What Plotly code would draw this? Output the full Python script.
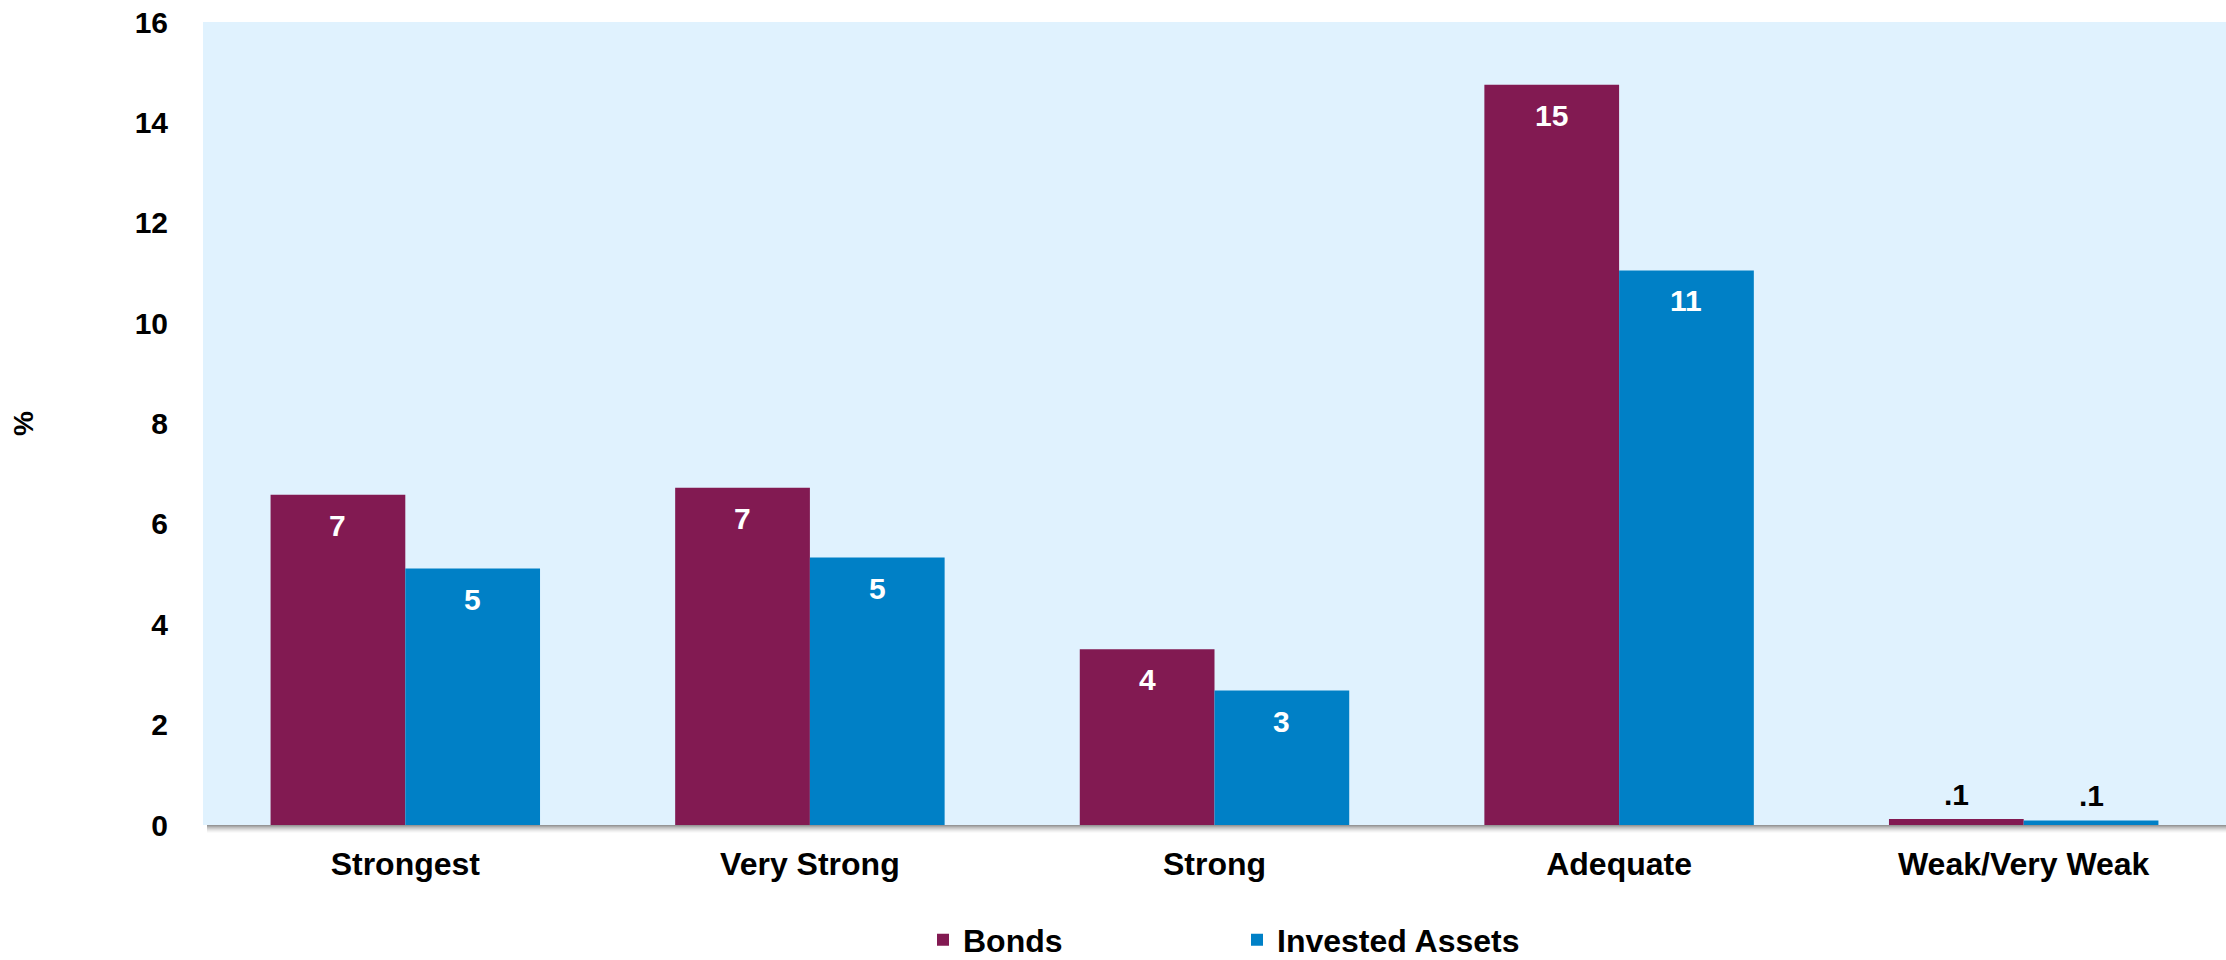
import plotly.graph_objects as go

categories = ["Strongest", "Very Strong", "Strong", "Adequate", "Weak/Very Weak"]
bonds = [6.58, 6.72, 3.5, 14.75, 0.12]
invested_assets = [5.11, 5.33, 2.68, 11.05, 0.09]
y_ticks = [0, 2, 4, 6, 8, 10, 12, 14, 16]

BONDS_COLOR = "#821A52"
INVESTED_COLOR = "#0080C6"
PLOT_BG = "#E0F2FE"
FONT = "Liberation Sans, Arial, sans-serif"

W, H = 2226, 960
M_L, M_R, M_T, M_B = 203, 0, 22, 135
BARGAP = 0.334


def fmt(v):
    # whole numbers for large values, ".1" style for fractions below one
    if v >= 1:
        return f"{round(v):d}"
    return f"{v:.1f}".lstrip("0")


fig = go.Figure()
fig.add_trace(go.Bar(name="Bonds", x=categories, y=bonds,
                     marker=dict(color=BONDS_COLOR, line=dict(width=0))))
fig.add_trace(go.Bar(name="Invested Assets", x=categories, y=invested_assets,
                     marker=dict(color=INVESTED_COLOR, line=dict(width=0))))

# value labels: inside near the top for tall bars, above for tiny ones
half = (1 - BARGAP) / 4
annotations = []
for series, sign in ((bonds, -1), (invested_assets, 1)):
    for i, v in enumerate(series):
        inside = v >= 1
        annotations.append(dict(
            x=i + sign * half, y=v, xref="x", yref="y",
            text=fmt(v), showarrow=False,
            yanchor="top" if inside else "bottom",
            yshift=-12 if inside else 6,
            font=dict(family=FONT, size=30, color="white" if inside else "black",
                      weight="bold"),
        ))

# soft drop shadow under the plot area
plot_h = H - M_T - M_B
shapes = []
shade = [150, 170, 190, 205, 220, 232, 242, 250]
for k, g in enumerate(shade):
    shapes.append(dict(
        type="rect", xref="paper", yref="paper",
        x0=4 / (W - M_L - M_R), x1=1,
        y0=-(k + 1) / plot_h, y1=-k / plot_h,
        fillcolor=f"rgb({g},{g},{g})", line=dict(width=0), layer="below",
    ))

fig.update_layout(
    width=W, height=H,
    margin=dict(l=M_L, r=M_R, t=M_T, b=M_B, pad=0, autoexpand=False),
    paper_bgcolor="white", plot_bgcolor=PLOT_BG,
    barmode="group", bargap=BARGAP, bargroupgap=0,
    font=dict(family=FONT, size=30, color="black", weight="bold"),
    xaxis=dict(
        showgrid=False, showline=False, zeroline=False, automargin=False,
        ticks="outside", ticklen=11, tickcolor="rgba(0,0,0,0)",
        tickfont=dict(size=32, weight="bold"),
    ),
    yaxis=dict(
        range=[0, 16], tickvals=y_ticks, showgrid=False, showline=False,
        zeroline=False, automargin=False, ticks="outside", ticklen=28,
        tickcolor="rgba(0,0,0,0)",
        tickfont=dict(size=30, weight="bold"),
        title=dict(text="%", font=dict(size=28, weight="bold"), standoff=92),
    ),
    legend=dict(
        orientation="h", x=0.5 + 124 / W, xanchor="center", xref="container",
        y=1 - 940 / H, yanchor="middle", yref="container",
        font=dict(size=32, weight="bold"), entrywidth=269, entrywidthmode="pixels",
        itemsizing="constant", bgcolor="rgba(0,0,0,0)",
    ),
    annotations=annotations,
    shapes=shapes,
)

fig.write_html("out.html")
